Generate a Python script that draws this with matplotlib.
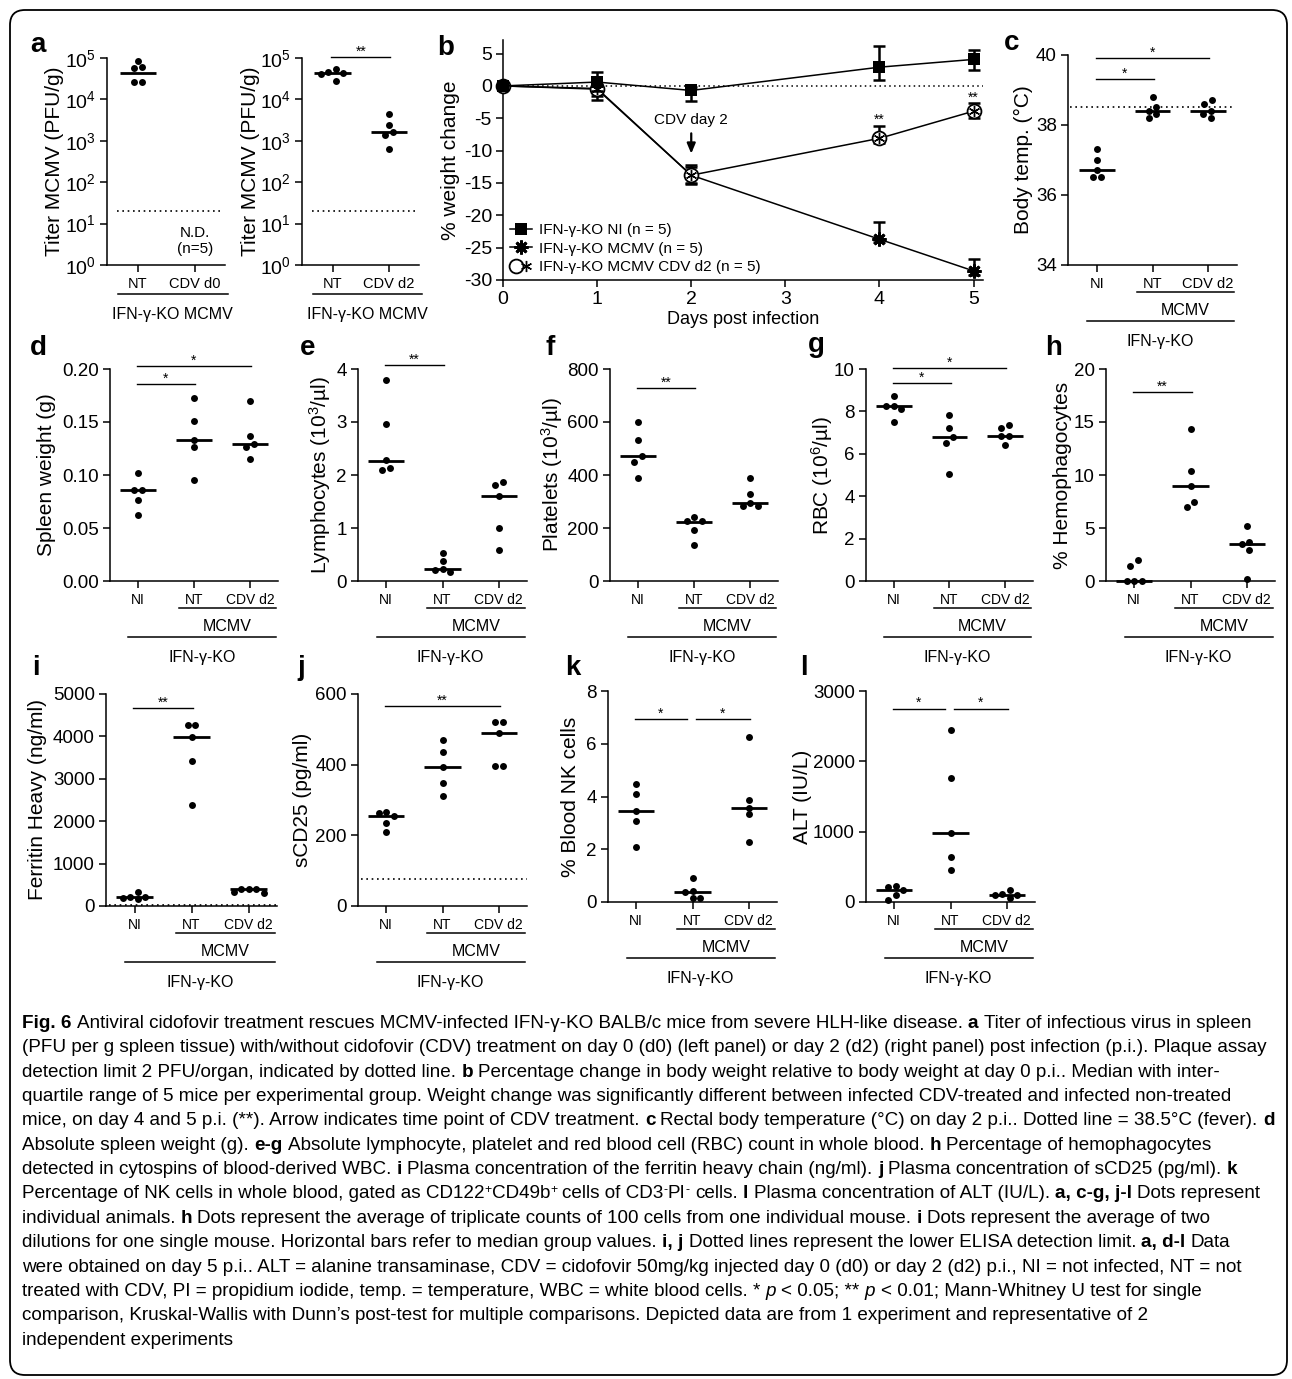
import numpy as np
import matplotlib
matplotlib.use("Agg")
import matplotlib.pyplot as plt
from matplotlib.lines import Line2D
from matplotlib.patches import FancyBboxPatch
from matplotlib.transforms import blended_transform_factory, IdentityTransform
from matplotlib.legend_handler import HandlerTuple
from matplotlib.ticker import FixedLocator, NullLocator, LogFormatterMathtext, FormatStrFormatter

plt.rcParams.update({
    "font.family": ["Liberation Sans", "DejaVu Sans"],
    "mathtext.fontset": "custom",
    "mathtext.rm": "Liberation Sans",
    "mathtext.it": "Liberation Sans:italic",
    "mathtext.bf": "Liberation Sans:bold",
    "axes.unicode_minus": False,
})

# ------------------------------------------------------------------ data
cats3 = ["NI", "NT", "CDV d2"]
cats_a1 = ["NT", "CDV d0"]
cats_a2 = ["NT", "CDV d2"]
bracket_inner = "MCMV"
bracket_outer = "IFN-γ-KO"
a_group = "IFN-γ-KO MCMV"

# a: spleen titers (PFU/g)
titer_d0_nt = [86000, 59000, 57000, 26000, 26000]
titer_d0_med = [43000]
titer_d2_nt = [55000, 45000, 44000, 40000, 28000]
titer_d2_cdv = [4500, 2350, 1620, 1400, 650]
titer_d2_med = [44000, 1620]
titer_limit = 20
titer_nd = ["N.D.", "(n=5)"]
titer_nd_y = [5.9, 2.4]

# b: % weight change
days = [0, 1, 2, 4, 5]
wt_ni = [0, 0.6, -0.7, 2.9, 4.1]
wt_ni_lo = [0, -0.8, -2.4, 0.9, 2.4]
wt_ni_hi = [0, 2.1, -0.1, 6.2, 5.6]
wt_mcmv = [0, -0.4, -13.8, -23.7, -28.6]
wt_mcmv_lo = [0, -2.1, -15.2, -24.2, -29.3]
wt_mcmv_hi = [0, 0.2, -12.3, -21.0, -26.8]
wt_cdv = [0, -0.5, -13.8, -8.1, -3.9]
wt_cdv_lo = [0, -1.5, -15.0, -8.8, -4.9]
wt_cdv_hi = [0, 0.3, -12.6, -6.2, -2.6]
wt_labels = ["IFN-γ-KO NI (n = 5)", "IFN-γ-KO MCMV (n = 5)", "IFN-γ-KO MCMV CDV d2 (n = 5)"]
wt_sig_days = [4, 5]
wt_sig_y = [-4.5, -1.1]
wt_arrow_text = "CDV day 2"

# c: body temperature
temp_ni = [37.3, 37.0, 36.7, 36.5, 36.5]
temp_nt = [38.8, 38.5, 38.4, 38.3, 38.2]
temp_cdv = [38.7, 38.6, 38.4, 38.3, 38.2]
temp_med = [36.7, 38.4, 38.4]
temp_fever = 38.5
# d: spleen weight
spl_ni = [0.102, 0.086, 0.086, 0.076, 0.062]
spl_nt = [0.173, 0.151, 0.133, 0.126, 0.095]
spl_cdv = [0.170, 0.137, 0.129, 0.126, 0.115]
spl_med = [0.086, 0.133, 0.129]
# e: lymphocytes
lym_ni = [3.79, 2.97, 2.28, 2.14, 2.10]
lym_nt = [0.53, 0.38, 0.23, 0.21, 0.17]
lym_cdv = [1.87, 1.81, 1.61, 1.00, 0.59]
lym_med = [2.27, 0.22, 1.60]
# f: platelets
plt_ni = [600, 532, 471, 450, 389]
plt_nt = [242, 225, 225, 191, 137]
plt_cdv = [389, 330, 296, 283, 283]
plt_med = [471, 222, 296]
# g: RBC
rbc_ni = [8.72, 8.27, 8.27, 8.12, 7.50]
rbc_nt = [7.81, 7.24, 6.77, 6.49, 5.04]
rbc_cdv = [7.36, 7.20, 6.83, 6.83, 6.43]
rbc_med = [8.27, 6.77, 6.83]
# h: hemophagocytes
hem_ni = [1.96, 1.42, 0.0, 0.0, 0.0]
hem_nt = [14.3, 10.36, 9.0, 7.5, 6.95]
hem_cdv = [5.2, 3.65, 3.5, 2.95, 0.15]
hem_med = [0.0, 9.0, 3.5]
# i: ferritin heavy
fer_ni = [340, 210, 205, 200, 155]
fer_nt = [4276, 4276, 3976, 3425, 2386]
fer_cdv = [405, 395, 390, 320, 310]
fer_med = [205, 3976, 390]
fer_limit = 18
# j: sCD25
cd25_ni = [267, 263, 256, 234, 210]
cd25_nt = [471, 435, 392, 348, 312]
cd25_cdv = [521, 521, 489, 397, 395]
cd25_med = [256, 392, 489]
cd25_limit = 76
# k: blood NK cells
nk_ni = [4.49, 4.09, 3.46, 3.06, 2.09]
nk_nt = [0.91, 0.42, 0.38, 0.17, 0.16]
nk_cdv = [6.24, 3.86, 3.58, 3.33, 2.27]
nk_med = [3.46, 0.38, 3.58]
# l: ALT
alt_ni = [223, 213, 175, 95, 33]
alt_nt = [2441, 1768, 981, 640, 460]
alt_cdv = [175, 118, 95, 95, 62]
alt_med = [175, 981, 95]

# significance bars: (group i, group j, level, label)
a2_sig = [(0, 1, 1.05e5, "**")]
c_sig = [(0, 2, 39.9, "*"), (0, 1, 39.3, "*")]
d_sig = [(0, 2, 0.203, "*"), (0, 1, 0.1855, "*")]
e_sig = [(0, 1, 4.07, "**")]
f_sig = [(0, 1, 729, "**")]
g_sig = [(0, 2, 10.03, "*"), (0, 1, 9.35, "*")]
h_sig = [(0, 1, 17.8, "**")]
i_sig = [(0, 1, 4670, "**")]
j_sig = [(0, 2, 565, "**")]
k_sig = [(0, 1, 6.92, "*"), (1, 2, 6.92, "*")]
l_sig = [(0, 1, 2749, "*"), (1, 2, 2749, "*")]

# ------------------------------------------------------------------ figure
W, H = 1292, 1379
fig = plt.figure(figsize=(W / 100, H / 100), dpi=100)
TICK_FS = 13.5
YLAB_FS = 15
CAT_FS = 10
GRP_FS = 11.5


def add_ax(l, t, r, b):
    ax = fig.add_axes([l / W, 1 - b / H, (r - l) / W, (b - t) / H])
    ax._pix = (l, t, r, b)
    ax.patch.set_alpha(0)
    for s in ("top", "right"):
        ax.spines[s].set_visible(False)
    for s in ("left", "bottom"):
        ax.spines[s].set_linewidth(1.1)
    ax.tick_params(direction="out", length=5, width=1.1, labelsize=TICK_FS, pad=3)
    return ax


def ylab(ax, text, rel_px, fs=YLAB_FS):
    l, t, r, b = ax._pix
    ax.set_ylabel(text, fontsize=fs)
    ax.yaxis.label.set_va("center")
    ax.yaxis.set_label_coords(rel_px / (r - l), 0.5)


def swarm(vals, ax, log=False, diam=6.5, step=7.5):
    l, t, r, b = ax._pix
    ylo, yhi = ax.get_ylim()
    xlo, xhi = ax.get_xlim()
    v = np.asarray(vals, float)
    if log:
        v = np.log10(v)
        ylo, yhi = np.log10(ylo), np.log10(yhi)
    ypx = (v - ylo) / (yhi - ylo) * (b - t)
    order = np.argsort(-ypx, kind="stable")
    xs = np.zeros(len(v))
    placed = []
    for i in order:
        x = 0.0
        for k in [0, -1, 1, -2, 2, -3, 3]:
            x = k * step
            if all((x - px) ** 2 + (ypx[i] - py) ** 2 >= diam ** 2 for px, py in placed):
                break
        xs[i] = x
        placed.append((x, ypx[i]))
    srt = list(order)
    comps = [[srt[0]]]
    for a_, b_ in zip(srt[:-1], srt[1:]):
        if abs(ypx[a_] - ypx[b_]) < diam:
            comps[-1].append(b_)
        else:
            comps.append([b_])
    for c in comps:
        if len(c) > 1:
            xs[c] -= xs[c].mean()
    return xs * (xhi - xlo) / (r - l)


def dots(ax, groups, meds, log=False, positions=None):
    if positions is None:
        positions = range(len(groups))
    for gi, (pos, vals) in enumerate(zip(positions, groups)):
        if vals is None:
            continue
        off = swarm(vals, ax, log=log)
        ax.plot(pos + off, vals, "o", color="k", ms=5, mew=0, clip_on=False, zorder=4)
    for pos, m in zip([p for p, g in zip(positions, groups) if g is not None], meds):
        ax.plot([pos - 0.32, pos + 0.32], [m, m], "-", color="k", lw=2.0,
                solid_capstyle="butt", clip_on=False, zorder=3)


def sig(ax, bars, fs=10):
    for n, (i, j, y, s) in enumerate(bars):
        x1, x2 = i - 0.02, j + 0.02
        for m, (i2, j2, y2, _) in enumerate(bars):
            if m != n and y2 == y:
                if j == i2:
                    x2 = j - 0.1
                if i == j2:
                    x1 = i + 0.06
        ax.plot([x1, x2], [y, y], "-", color="k", lw=1.0, clip_on=False)
        ax.annotate(s, ((x1 + x2) / 2, y), xytext=(0, 1.0), textcoords="offset points",
                    ha="center", va="baseline", fontsize=fs, annotation_clip=False)


def cat_axis(ax, cats, fs=CAT_FS):
    ax.set_xticks(range(len(cats)))
    ax.set_xticklabels(cats, fontsize=fs)
    ax.tick_params(axis="x", length=5, pad=3.5)


def brackets(ax, inner=(0.73, 2.46), outer=(-0.17, 2.46), offs=(27, 44, 56, 75)):
    l, t, r, b = ax._pix
    tr = blended_transform_factory(ax.transData, fig.transFigure)

    def yf(o):
        return 1 - (b + o) / H
    fig.add_artist(Line2D(list(inner), [yf(offs[0])] * 2, transform=tr, color="k", lw=1.1))
    fig.text(np.mean(inner), yf(offs[1]), bracket_inner, transform=tr, ha="center",
             va="center_baseline", fontsize=GRP_FS)
    fig.add_artist(Line2D(list(outer), [yf(offs[2])] * 2, transform=tr, color="k", lw=1.1))
    fig.text(np.mean(outer), yf(offs[3]), bracket_outer, transform=tr, ha="center",
             va="center_baseline", fontsize=GRP_FS)


def letter(s, x, y):
    fig.text(x / W, 1 - y / H, s, fontsize=20, fontweight="bold", ha="left", va="baseline")


def lin_axis(ax, ylim, ticks, fmt):
    ax.set_xlim(-0.5, 2.5)
    ax.set_ylim(*ylim)
    ax.yaxis.set_major_locator(FixedLocator(ticks))
    ax.yaxis.set_major_formatter(FormatStrFormatter(fmt))


# ---------------- panel a (log titers)
for (box, cats, groups, meds, rel, nd) in [
        ((107, 58, 225, 265), cats_a1, [titer_d0_nt, None], titer_d0_med, -52, True),
        ((302, 58, 419, 265), cats_a2, [titer_d2_nt, titer_d2_cdv], titer_d2_med, -51, False)]:
    ax = add_ax(*box)
    ax.set_yscale("log")
    ax.set_xlim(-0.54, 1.53)
    ax.set_ylim(1, 1e5)
    ax.yaxis.set_major_locator(FixedLocator([10.0 ** k for k in range(6)]))
    ax.yaxis.set_minor_locator(NullLocator())
    ax.yaxis.set_major_formatter(LogFormatterMathtext())
    ax.tick_params(axis="y", labelsize=14)
    cat_axis(ax, cats, fs=10.5)
    dots(ax, groups, meds, log=True)
    ax.plot([-0.37, 1.5], [titer_limit, titer_limit], color="k", lw=1.2, ls=(0, (1, 2.2)))
    ylab(ax, "Titer MCMV (PFU/g)", rel)
    if nd:
        for s, yv in zip(titer_nd, titer_nd_y):
            ax.text(1, yv, s, ha="center", va="center", fontsize=11)
    else:
        sig(ax, a2_sig)
    l, t, r, b = box
    tr = blended_transform_factory(ax.transData, fig.transFigure)
    fig.add_artist(Line2D([-0.35, 1.58], [1 - (b + 29) / H] * 2, transform=tr, color="k", lw=1.1))
    fig.text(0.615, 1 - (b + 48) / H, a_group, transform=tr, ha="center",
             va="center_baseline", fontsize=GRP_FS)
letter("a", 30, 52)

# ---------------- panel b (weight curve)
axb = add_ax(503, 40, 983, 280)
axb.set_xlim(0, 5.1)
axb.set_ylim(-30, 7.1)
axb.set_xticks([0, 1, 2, 3, 4, 5])
axb.set_yticks([-30, -25, -20, -15, -10, -5, 0, 5])
axb.tick_params(labelsize=14)
axb.axhline(0, color="k", lw=1.1, ls=(0, (1, 2.2)), zorder=1)
series = [
    (wt_mcmv, wt_mcmv_lo, wt_mcmv_hi, dict(marker=(8, 2, 0), ms=10, mew=2.0, mfc="k")),
    (wt_cdv, wt_cdv_lo, wt_cdv_hi, dict(marker="o", ms=10, mew=1.3, mfc="white")),
    (wt_ni, wt_ni_lo, wt_ni_hi, dict(marker="s", ms=8.5, mew=0, mfc="k")),
]
for z, (y, lo, hi, mk) in enumerate(series):
    y = np.array(y); lo = np.array(lo); hi = np.array(hi)
    axb.errorbar(days, y, yerr=[y - lo, hi - y], fmt="none", ecolor="k", elinewidth=1.8,
                 capsize=4, capthick=1.8, zorder=2 + z, clip_on=False)
    axb.plot(days, y, "-", color="k", lw=1.1, zorder=2.5 + z, clip_on=False, mec="k", **mk)
    if mk["marker"] == "o":
        axb.plot(days, y, ls="none", marker=(6, 2, 0), ms=8, mew=1.0, color="k",
                 zorder=2.6 + z, clip_on=False)
for dday, yv in zip(wt_sig_days, wt_sig_y):
    axb.annotate("**", (dday, yv), xytext=(0, -6), textcoords="offset points",
                 ha="center", va="baseline", fontsize=10)
axb.text(2, -5.3, wt_arrow_text, ha="center", va="center", fontsize=11)
axb.annotate("", xy=(2, -10.9), xytext=(2, -6.9),
             arrowprops=dict(arrowstyle="-|>,head_length=0.6,head_width=0.25", color="k", lw=1.6))
h_ni = Line2D([], [], color="k", lw=1.1, marker="s", ms=8.5, mew=0)
h_mc = Line2D([], [], color="k", lw=1.1, marker=(8, 2, 0), ms=10, mew=2.0)
h_cd = (Line2D([], [], color="k", lw=1.1, marker="o", ms=10, mew=1.3, mfc="white"),
        Line2D([], [], ls="none", color="k", marker=(6, 2, 0), ms=8, mew=1.0))
axb.legend([h_ni, h_mc, h_cd], wt_labels, handler_map={tuple: HandlerTuple(ndivide=None)},
           loc="lower left", bbox_to_anchor=(0.015, 0.025), frameon=False, fontsize=11,
           handlelength=1.4, handletextpad=0.5, labelspacing=0.28, borderpad=0, borderaxespad=0)
axb.set_xlabel("Days post infection", fontsize=13, labelpad=2)
ylab(axb, "% weight change", -52)
letter("b", 437, 55)

# ---------------- panel c
axc = add_ax(1068, 55, 1237, 265)
axc.set_xlim(-0.52, 2.52)
axc.set_ylim(34, 40)
axc.yaxis.set_major_locator(FixedLocator([34, 36, 38, 40]))
axc.yaxis.set_major_formatter(FormatStrFormatter("%d"))
cat_axis(axc, cats3, fs=10.5)
axc.plot([-0.48, 2.45], [temp_fever, temp_fever], color="k", lw=1.2, ls=(0, (1, 2.2)), zorder=1)
dots(axc, [temp_ni, temp_nt, temp_cdv], temp_med)
sig(axc, c_sig)
ylab(axc, "Body temp. (°C)", -45)
brackets(axc, inner=(0.72, 2.47), outer=(-0.18, 2.47))
letter("c", 1004, 50)

# ---------------- rows 2 and 3
panels = [
    ("d", (110, 369, 278, 581), [spl_ni, spl_nt, spl_cdv], spl_med, (0, 0.2),
     [0, 0.05, 0.10, 0.15, 0.20], "%.2f", "Spleen weight (g)", -63, d_sig, None, (30, 355)),
    ("e", (358, 369, 527, 581), [lym_ni, lym_nt, lym_cdv], lym_med, (0, 4),
     [0, 1, 2, 3, 4], "%d", "Lymphocytes (10$^{3}$/µl)", -38, e_sig, None, (300, 355)),
    ("f", (610, 369, 778, 581), [plt_ni, plt_nt, plt_cdv], plt_med, (0, 800),
     [0, 200, 400, 600, 800], "%d", "Platelets (10$^{3}$/µl)", -58, f_sig, None, (545, 355)),
    ("g", (866, 369, 1033, 581), [rbc_ni, rbc_nt, rbc_cdv], rbc_med, (0, 10),
     [0, 2, 4, 6, 8, 10], "%d", "RBC (10$^{6}$/µl)", -44, g_sig, None, (808, 352)),
    ("h", (1106, 369, 1275, 581), [hem_ni, hem_nt, hem_cdv], hem_med, (0, 20),
     [0, 5, 10, 15, 20], "%d", "% Hemophagocytes", -44, h_sig, None, (1045, 355)),
    ("i", (106, 694, 277, 906), [fer_ni, fer_nt, fer_cdv], fer_med, (0, 5000),
     [0, 1000, 2000, 3000, 4000, 5000], "%d", "Ferritin Heavy (ng/ml)", -68, i_sig, fer_limit, (32, 675)),
    ("j", (358, 694, 527, 906), [cd25_ni, cd25_nt, cd25_cdv], cd25_med, (0, 600),
     [0, 200, 400, 600], "%d", "sCD25 (pg/ml)", -56, j_sig, cd25_limit, (297, 675)),
    ("k", (608, 691, 777, 902), [nk_ni, nk_nt, nk_cdv], nk_med, (0, 8),
     [0, 2, 4, 6, 8], "%d", "% Blood NK cells", -37, k_sig, None, (565, 675)),
    ("l", (866, 691, 1035, 902), [alt_ni, alt_nt, alt_cdv], alt_med, (0, 3000),
     [0, 1000, 2000, 3000], "%d", "ALT (IU/L)", -63, l_sig, None, (800, 675)),
]
for (lt, box, groups, meds, ylim, ticks, fmt, yl, rel, sbars, limit, lpos) in panels:
    ax = add_ax(*box)
    lin_axis(ax, ylim, ticks, fmt)
    cat_axis(ax, cats3)
    if limit is not None:
        ax.plot([-0.45, 2.5], [limit, limit], color="k", lw=1.2, ls=(0, (1, 2.2)), zorder=1)
    dots(ax, groups, meds)
    sig(ax, sbars)
    ylab(ax, yl, rel)
    brackets(ax)
    letter(lt, *lpos)

# ---------------- frame
frame = FancyBboxPatch((10, H - 1375), 1277, 1365, boxstyle="round,pad=0,rounding_size=15",
                       transform=IdentityTransform(), fill=False, lw=1.3, ec="k")
fig.add_artist(frame)

# ---------------- caption
cap_lines = [
    [("Fig. 6", "b"), (" Antiviral cidofovir treatment rescues MCMV-infected IFN-γ-KO BALB/c mice from severe HLH-like disease. ", "n"), ("a", "b"), (" Titer of infectious virus in spleen", "n")],
    [("(PFU per g spleen tissue) with/without cidofovir (CDV) treatment on day 0 (d0) (left panel) or day 2 (d2) (right panel) post infection (p.i.). Plaque assay", "n")],
    [("detection limit 2 PFU/organ, indicated by dotted line. ", "n"), ("b", "b"), (" Percentage change in body weight relative to body weight at day 0 p.i.. Median with inter-", "n")],
    [("quartile range of 5 mice per experimental group. Weight change was significantly different between infected CDV-treated and infected non-treated", "n")],
    [("mice, on day 4 and 5 p.i. (**). Arrow indicates time point of CDV treatment. ", "n"), ("c", "b"), (" Rectal body temperature (°C) on day 2 p.i.. Dotted line = 38.5°C (fever). ", "n"), ("d", "b")],
    [("Absolute spleen weight (g). ", "n"), ("e-g", "b"), (" Absolute lymphocyte, platelet and red blood cell (RBC) count in whole blood. ", "n"), ("h", "b"), (" Percentage of hemophagocytes", "n")],
    [("detected in cytospins of blood-derived WBC. ", "n"), ("i", "b"), (" Plasma concentration of the ferritin heavy chain (ng/ml). ", "n"), ("j", "b"), (" Plasma concentration of sCD25 (pg/ml). ", "n"), ("k", "b")],
    [("Percentage of NK cells in whole blood, gated as CD122", "n"), ("+", "s"), ("CD49b", "n"), ("+", "s"), (" cells of CD3", "n"), ("-", "s"), ("PI", "n"), ("-", "s"), (" cells. ", "n"), ("l", "b"), (" Plasma concentration of ALT (IU/L). ", "n"), ("a, c-g, j-l", "b"), (" Dots represent", "n")],
    [("individual animals. ", "n"), ("h", "b"), (" Dots represent the average of triplicate counts of 100 cells from one individual mouse. ", "n"), ("i", "b"), (" Dots represent the average of two", "n")],
    [("dilutions for one single mouse. Horizontal bars refer to median group values. ", "n"), ("i, j", "b"), (" Dotted lines represent the lower ELISA detection limit. ", "n"), ("a, d-l", "b"), (" Data", "n")],
    [("were obtained on day 5 p.i.. ALT = alanine transaminase, CDV = cidofovir 50mg/kg injected day 0 (d0) or day 2 (d2) p.i., NI = not infected, NT = not", "n")],
    [("treated with CDV, PI = propidium iodide, temp. = temperature, WBC = white blood cells. * ", "n"), ("p", "i"), (" < 0.05; ** ", "n"), ("p", "i"), (" < 0.01; Mann-Whitney U test for single", "n")],
    [("comparison, Kruskal-Wallis with Dunn’s post-test for multiple comparisons. Depicted data are from 1 experiment and representative of 2", "n")],
    [("independent experiments", "n")],
]
CAP_FONT = ["Liberation Sans Narrow", "Liberation Sans", "DejaVu Sans"]
renderer = fig.canvas.get_renderer()


def tprops(code, size):
    p = dict(fontsize=size, family=CAP_FONT, fontweight="normal", fontstyle="normal")
    if code == "b":
        p["fontweight"] = "bold"
    if code == "i":
        p["fontstyle"] = "italic"
    if code == "s":
        p["fontsize"] = size * 0.65
    return p


def twidth(s, props):
    t = fig.text(0, 0, s, **props)
    w = t.get_window_extent(renderer).width
    t.remove()
    return w


def space_w(props):
    return twidth("a a", props) - twidth("aa", props)


def line_layout(segs, size, draw=False, x0=0.0, y=0.0):
    x = x0
    sw = space_w(tprops("n", size))
    for s, code in segs:
        props = tprops(code, size)
        lead = len(s) - len(s.lstrip(" "))
        trail = len(s) - len(s.rstrip(" "))
        core = s.strip(" ")
        x += lead * sw
        if core:
            w = twidth(core, props)
            if draw:
                yy = y - (size * 0.42 if code == "s" else 0)
                fig.text(x / W, 1 - yy / H, core, va="baseline", ha="left", **props)
            x += w
        x += trail * sw
    return x - x0


base = 12.0
cap_size = min(base * 1258.0 / line_layout(segs, base) for segs in cap_lines)
for k, segs in enumerate(cap_lines):
    line_layout(segs, cap_size, draw=True, x0=22, y=1028 + 24.35 * k)

fig.savefig("out.png", dpi=100)
